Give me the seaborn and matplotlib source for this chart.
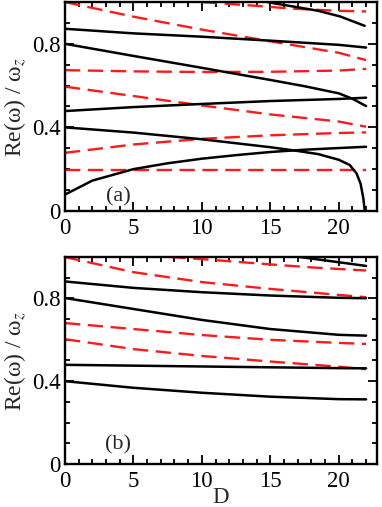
import numpy as np
import pandas as pd
import matplotlib
matplotlib.use("Agg")
import matplotlib.pyplot as plt
import seaborn as sns
from matplotlib.ticker import MultipleLocator

# ---- panel (a) data ----
a_black = [
    ([0, 2, 5, 7.5, 10, 12.5, 15, 17.5, 20, 22],
     [0.078, 0.145, 0.200, 0.228, 0.250, 0.267, 0.282, 0.293, 0.301, 0.307]),
    ([0, 5, 10, 15, 17, 18.5, 20, 20.8, 21.3, 21.6, 21.8, 21.9],
     [0.40, 0.375, 0.343, 0.305, 0.287, 0.272, 0.245, 0.22, 0.18, 0.13, 0.06, 0.0]),
    ([0, 5, 10, 15, 20, 22],
     [0.478, 0.497, 0.512, 0.526, 0.536, 0.542]),
    ([0, 5, 10, 15, 17.5, 20, 21, 22],
     [0.80, 0.742, 0.685, 0.627, 0.597, 0.563, 0.537, 0.502]),
    ([0, 5, 10, 15, 20, 22],
     [0.872, 0.85, 0.834, 0.815, 0.795, 0.782]),
    ([13, 15, 17, 18.5, 20.1, 21.9],
     [1.03, 0.997, 0.975, 0.958, 0.931, 0.886]),
]
a_red = [
    ([0, 22], [0.198, 0.198]),
    ([0, 5, 10, 15, 20, 22], [0.278, 0.318, 0.345, 0.362, 0.373, 0.376]),
    ([0, 5, 10, 15, 20, 22], [0.595, 0.55, 0.505, 0.462, 0.428, 0.403]),
    ([0, 5, 10, 15, 20, 22], [0.674, 0.668, 0.665, 0.666, 0.672, 0.68]),
    ([0, 5, 10, 15, 20, 22], [1.0, 0.93, 0.868, 0.812, 0.757, 0.722]),
    ([10, 13.3, 16.7, 20, 22], [1.0, 0.985, 0.968, 0.958, 0.955]),
]

# ---- panel (b) data ----
b_black = [
    ([0, 5, 10, 15, 20, 22], [0.40, 0.368, 0.344, 0.325, 0.313, 0.312]),
    ([0, 5, 10, 15, 20, 22], [0.479, 0.475, 0.471, 0.467, 0.463, 0.462]),
    ([0, 5, 10, 15, 20, 22], [0.802, 0.749, 0.696, 0.652, 0.624, 0.62]),
    ([0, 5, 10, 15, 20, 22], [0.882, 0.851, 0.83, 0.814, 0.803, 0.801]),
    ([15, 17.2, 20, 22], [1.02, 1.0, 0.975, 0.957]),
]
b_red = [
    ([0, 5, 10, 15, 20, 22], [0.603, 0.555, 0.522, 0.495, 0.47, 0.458]),
    ([0, 5, 10, 15, 20, 22], [0.681, 0.652, 0.623, 0.60, 0.585, 0.58]),
    ([0, 5, 10, 15, 20, 22], [1.0, 0.927, 0.879, 0.846, 0.817, 0.806]),
    ([7.7, 10, 14.3, 18, 22], [1.0, 0.99, 0.968, 0.95, 0.935]),
]

x_ticks = [0, 5, 10, 15, 20]
y_ticks = [0, 0.4, 0.8]
y_ticklabels = ["0", "0.4", "0.8"]

sns.set_style("ticks")
plt.rcParams["font.family"] = ["Liberation Serif", "DejaVu Serif"]
plt.rcParams["mathtext.fontset"] = "stix"


def draw_panel(ax, blacks, reds, tag, tag_y):
    for xs, ys in reds:
        df = pd.DataFrame({"D": xs, "w": ys})
        sns.lineplot(data=df, x="D", y="w", ax=ax, color="#ff1a1a",
                     linewidth=1.7, linestyle=(0, (6.5, 3.2)),
                     sort=False, estimator=None)
    for xs, ys in blacks:
        df = pd.DataFrame({"D": xs, "w": ys})
        sns.lineplot(data=df, x="D", y="w", ax=ax, color="black",
                     linewidth=1.8, sort=False, estimator=None)
    ax.set_xlim(0, 22.8)
    ax.set_ylim(0, 1.0)
    ax.set_xticks(x_ticks)
    ax.set_yticks(y_ticks)
    ax.set_yticklabels(y_ticklabels)
    ax.xaxis.set_minor_locator(MultipleLocator(1))
    ax.yaxis.set_minor_locator(MultipleLocator(0.1))
    ax.tick_params(which="both", direction="in", top=True, right=True,
                   labelsize=16.5, width=1.3, colors="black")
    ax.tick_params(which="major", length=6.5)
    ax.tick_params(which="minor", length=3.5)
    ax.tick_params(axis="x", pad=5)
    ax.tick_params(axis="y", pad=3)
    for s in ax.spines.values():
        s.set_linewidth(1.7)
        s.set_color("black")
        s.set_visible(True)
    ax.set_ylabel("Re(ω) / ω$_z$", fontsize=17, labelpad=3)
    ax.text(3.9, tag_y, tag, fontsize=16, ha="center", va="center")


fig = plt.figure(figsize=(3.82, 5.07), dpi=100)
ax_a = fig.add_axes([0.170, 0.584, 0.817, 0.412])
ax_b = fig.add_axes([0.170, 0.085, 0.817, 0.408])

draw_panel(ax_a, a_black, a_red, "(a)", 0.066)
draw_panel(ax_b, b_black, b_red, "(b)", 0.093)
ax_a.set_xlabel("")
ax_b.set_xlabel("D", fontsize=16.5, labelpad=-3.5)

fig.savefig("out.png", dpi=100)
